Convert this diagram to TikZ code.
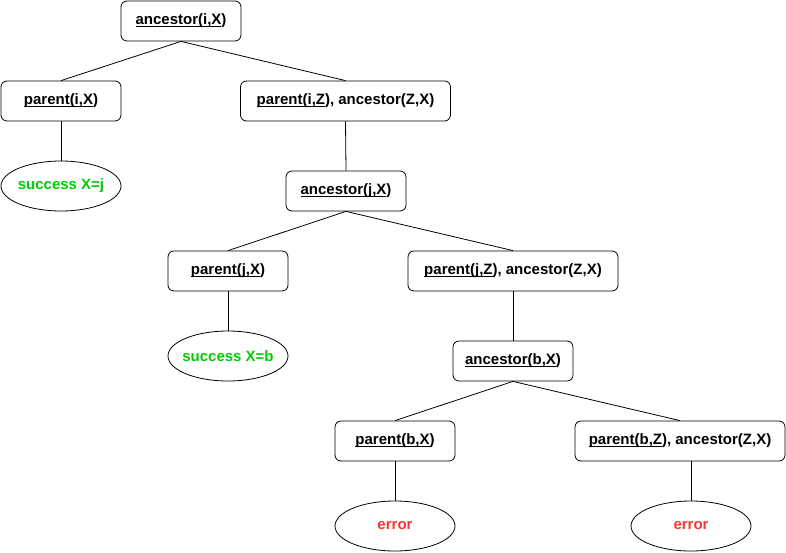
\documentclass[tikz,border=0pt]{standalone}
\usepackage{fontspec}
\setmainfont{Liberation Sans}
\usetikzlibrary{shapes.geometric}
\definecolor{okgreen}{HTML}{00CC00}
\definecolor{errred}{HTML}{FF3333}
\newsavebox\myulbox
\newcommand\myul[1]{\sbox\myulbox{#1}\rlap{\rule[-2.2pt]{\wd\myulbox}{0.9pt}}\usebox\myulbox}
\newcommand\zw[1]{\makebox[0pt]{#1}}
\tikzset{
  box/.style={draw, rounded corners=6pt, minimum height=40pt, inner sep=0pt, font=\fontsize{15pt}{17pt}\selectfont\bfseries, line width=0.8pt},
  oval/.style={draw, ellipse, minimum width=120pt, minimum height=50pt, inner sep=0pt, font=\fontsize{15pt}{17pt}\selectfont\bfseries, line width=0.8pt},
  edge/.style={line width=0.8pt}
}
\begin{document}
\begin{tikzpicture}[x=1pt,y=-1pt]
\useasboundingbox (0,0) rectangle (786,552);
\node[box, minimum width=120pt] (a1) at (181,21) {\myul{ancestor(i,X})};
\node[box, minimum width=120pt] (p1) at (61,101) {\myul{parent(i,X})};
\node[box, minimum width=210pt] (r1) at (345.5,101) {\myul{parent(i,Z}), ancestor(Z,X)};
\node[oval, text=okgreen] (s1) at (61,186) {\zw{success X=j}};
\node[box, minimum width=120pt] (a2) at (346,191) {\myul{ancestor(j,X})};
\node[box, minimum width=120pt] (p2) at (228,271) {\myul{parent(j,X})};
\node[box, minimum width=210pt] (r2) at (513,271) {\myul{parent(j,Z}), ancestor(Z,X)};
\node[oval, text=okgreen] (s2) at (228,356) {\zw{success X=b}};
\node[box, minimum width=120pt] (a3) at (513,361) {\myul{ancestor(b,X})};
\node[box, minimum width=120pt] (p3) at (395,441) {\myul{parent(b,X})};
\node[box, minimum width=210pt] (r3) at (680,441) {\myul{parent(b,Z}), ancestor(Z,X)};
\node[oval, text=errred] (e1) at (395,526) {\zw{error}};
\node[oval, text=errred] (e2) at (691,526) {\zw{error}};
\draw[edge] (a1.south) -- (p1.north);
\draw[edge] (a1.south) -- (r1.north);
\draw[edge] (p1.south) -- (s1.north);
\draw[edge] (r1.south) -- (a2.north);
\draw[edge] (a2.south) -- (p2.north);
\draw[edge] (a2.south) -- (r2.north);
\draw[edge] (p2.south) -- (s2.north);
\draw[edge] (r2.south) -- (a3.north);
\draw[edge] (a3.south) -- (p3.north);
\draw[edge] (a3.south) -- (r3.north);
\draw[edge] (p3.south) -- (e1.north);
\draw[edge] (e2.north |- r3.south) -- (e2.north);
\end{tikzpicture}
\end{document}
